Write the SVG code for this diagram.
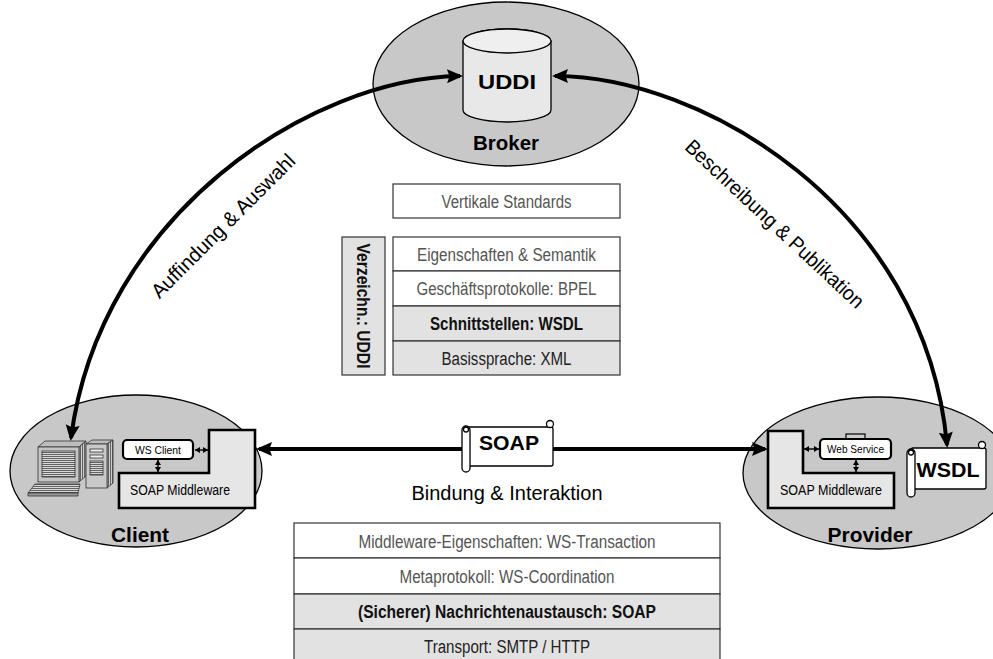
<svg xmlns="http://www.w3.org/2000/svg" width="993" height="659" viewBox="0 0 993 659">
  <style>
    .zone { fill: #c8c8c8; stroke: #000; stroke-width: 1.3; }
    .mw { fill: #e6e6e6; stroke: #000; stroke-width: 2.6; stroke-linejoin: miter; }
    .comp { fill: #fff; stroke: #000; stroke-width: 2.2; }
    .scroll { fill: #fff; stroke: #000; stroke-width: 1.3; }
    .layer { fill: #fff; stroke: #333; stroke-width: 1.2; }
    .layer.g { fill: #e2e2e2; }
    .flow { fill: none; stroke: #000; stroke-width: 4; }
    .tiny { fill: none; stroke: #000; stroke-width: 1.4; }
    text { font-family: "Liberation Sans", Arial, sans-serif; text-anchor: middle; }
    .t-big { font-weight: bold; font-size: 21px; fill: #000; }
    .t-std { font-size: 18px; fill: #555; }
    .t-key { font-size: 18px; fill: #111; font-weight: bold; }
    .t-base { font-size: 18px; fill: #222; }
    .t-lbl { font-size: 20.5px; fill: #000; }
    .t-small { font-size: 11.5px; fill: #000; }
    .t-mw { font-size: 14px; fill: #000; }
  </style>
  <defs>
    <marker id="arrow" markerUnits="userSpaceOnUse" markerWidth="17" markerHeight="15" refX="13" refY="7" orient="auto-start-reverse">
      <path d="M0,0 L16,7 L0,14 L2.5,7 z" fill="#000"/>
    </marker>
    <marker id="tip" markerUnits="userSpaceOnUse" markerWidth="6" markerHeight="6" refX="5" refY="3" orient="auto-start-reverse">
      <path d="M0,0 L5,3 L0,6 z" fill="#000"/>
    </marker>
    <pattern id="hatch" patternUnits="userSpaceOnUse" width="4" height="2">
      <rect width="4" height="2" fill="#d8d8d8"/>
      <rect width="4" height="0.9" fill="#555"/>
    </pattern>
    <pattern id="vhatch" patternUnits="userSpaceOnUse" width="2" height="4">
      <rect width="2" height="4" fill="#cfcfcf"/>
      <rect width="0.9" height="4" fill="#555"/>
    </pattern>
  </defs>

  <!-- Broker with UDDI registry -->
  <g id="broker">
    <ellipse class="zone" cx="506" cy="84" rx="133" ry="82"/>
    <path d="M463,41 L463,110 A44,12 0 0 0 551,110 L551,41 A44,12 0 0 0 463,41 Z" fill="#e8e8e8" stroke="#000" stroke-width="1.3"/>
    <ellipse cx="507" cy="41" rx="44" ry="12" fill="#efefef" stroke="#000" stroke-width="1.3"/>
    <text class="t-big" x="507" y="89" font-size="26" textLength="58" lengthAdjust="spacingAndGlyphs">UDDI</text>
    <text class="t-big" x="506" y="150" textLength="66" lengthAdjust="spacingAndGlyphs">Broker</text>
  </g>

  <!-- Client -->
  <g id="client">
    <ellipse class="zone" cx="136" cy="471" rx="126" ry="76"/>
    <!-- workstation -->
    <g stroke="#333" stroke-width="0.8">
      <polygon points="38,447 45,441 86,441 79,447" fill="#bdbdbd"/>
      <polygon points="79,447 86,441 86,476 79,482" fill="url(#vhatch)"/>
      <rect x="38" y="447" width="41" height="35" fill="#c4c4c4"/>
      <rect x="42" y="451" width="33" height="26" fill="url(#hatch)"/>
      <polygon points="86,444 92,440 113,440 107,444" fill="#bdbdbd"/>
      <polygon points="107,444 113,440 113,483 107,488" fill="url(#vhatch)"/>
      <rect x="86" y="444" width="21" height="44" fill="#c9c9c9"/>
      <rect x="90" y="449" width="13" height="3" fill="#eee"/>
      <rect x="90" y="455" width="13" height="3" fill="#eee"/>
      <rect x="90" y="461" width="13" height="14" fill="url(#hatch)"/>
      <polygon points="35,484 80,484 78,493 28,493" fill="url(#hatch)"/>
      <polygon points="28,493 78,493 78,496 28,496" fill="#999"/>
    </g>
    <path class="mw" d="M119,473 L209,473 L209,430 L255,430 L255,508 L119,508 Z"/>
    <rect class="comp" x="123" y="440" width="70" height="19" rx="4"/>
    <text class="t-small" x="158" y="454" textLength="46" lengthAdjust="spacingAndGlyphs">WS Client</text>
    <text class="t-mw" x="180" y="495" textLength="100" lengthAdjust="spacingAndGlyphs">SOAP Middleware</text>
    <text class="t-big" x="140" y="542" font-size="20.5" textLength="58" lengthAdjust="spacingAndGlyphs">Client</text>
  </g>

  <!-- Provider -->
  <g id="provider">
    <ellipse class="zone" cx="878" cy="473" rx="135" ry="76"/>
    <path class="mw" d="M768,431 L803,431 L803,473 L894,473 L894,508 L768,508 Z"/>
    <rect x="846" y="434" width="19" height="6" fill="#ccc" stroke="#000" stroke-width="1.2"/>
    <rect class="comp" x="820" y="439" width="71" height="20" rx="4"/>
    <text class="t-small" x="855.5" y="453" textLength="57" lengthAdjust="spacingAndGlyphs">Web Service</text>
    <text class="t-mw" x="831" y="495" textLength="102" lengthAdjust="spacingAndGlyphs">SOAP Middleware</text>
    <text class="t-big" x="870" y="542" textLength="85" lengthAdjust="spacingAndGlyphs">Provider</text>
  </g>

  <!-- WSDL document -->
  <g id="wsdl">
    <rect class="scroll" x="911" y="448" width="75" height="41" rx="2"/>
    <circle class="scroll" cx="982" cy="445" r="3.5"/>
    <rect class="scroll" x="907" y="449" width="8" height="48" rx="4"/>
    <circle class="scroll" cx="911" cy="452.5" r="2.5"/>
    <text class="t-big" x="948" y="477" font-size="22.5" textLength="63" lengthAdjust="spacingAndGlyphs">WSDL</text>
  </g>

  <!-- Connectors -->
  <g id="connectors">
    <path class="flow" d="M460,76 C310,78 100,215 71,438" marker-start="url(#arrow)" marker-end="url(#arrow)"/>
    <path class="flow" d="M555,76 C700,76 925,205 947,445" marker-start="url(#arrow)" marker-end="url(#arrow)"/>
    <line class="flow" x1="259" y1="449" x2="765" y2="449" marker-start="url(#arrow)" marker-end="url(#arrow)"/>
    <line class="tiny" x1="195" y1="450" x2="208" y2="450" marker-start="url(#tip)" marker-end="url(#tip)"/>
    <line class="tiny" x1="158" y1="460" x2="158" y2="472" marker-start="url(#tip)" marker-end="url(#tip)"/>
    <line class="tiny" x1="804" y1="449" x2="819" y2="449" marker-start="url(#tip)" marker-end="url(#tip)"/>
    <line class="tiny" x1="856" y1="460" x2="856" y2="472" marker-start="url(#tip)" marker-end="url(#tip)"/>
    <text class="t-lbl" x="228" y="231" transform="rotate(-45 228 231)" textLength="194" lengthAdjust="spacingAndGlyphs">Auffindung &amp; Auswahl</text>
    <text class="t-lbl" x="770" y="229" transform="rotate(43 770 229)" textLength="236" lengthAdjust="spacingAndGlyphs">Beschreibung &amp; Publikation</text>
  </g>

  <!-- SOAP message -->
  <g id="soap">
    <rect class="scroll" x="467" y="427" width="86" height="39" rx="2"/>
    <circle class="scroll" cx="550" cy="424" r="3.5"/>
    <rect class="scroll" x="462" y="426" width="8" height="46" rx="4"/>
    <circle class="scroll" cx="466" cy="429.5" r="2.5"/>
    <text class="t-big" x="509" y="450" font-size="20.5" textLength="60" lengthAdjust="spacingAndGlyphs">SOAP</text>
  </g>
  <text class="t-lbl" x="507" y="500" font-size="20" textLength="191" lengthAdjust="spacingAndGlyphs">Bindung &amp; Interaktion</text>

  <!-- Description layer stack -->
  <g id="description-stack">
    <rect class="layer" x="393" y="184" width="227" height="34"/>
    <text class="t-std" x="506.5" y="207.5" textLength="130" lengthAdjust="spacingAndGlyphs">Vertikale Standards</text>
    <rect class="layer" x="393" y="237" width="227" height="34"/>
    <text class="t-std" x="506.5" y="260.5" textLength="179" lengthAdjust="spacingAndGlyphs">Eigenschaften &amp; Semantik</text>
    <rect class="layer" x="393" y="271" width="227" height="35"/>
    <text class="t-std" x="506.5" y="295" textLength="180" lengthAdjust="spacingAndGlyphs">Geschäftsprotokolle: BPEL</text>
    <rect class="layer g" x="393" y="306" width="227" height="35"/>
    <text class="t-key" x="506.5" y="330" textLength="153" lengthAdjust="spacingAndGlyphs">Schnittstellen: WSDL</text>
    <rect class="layer g" x="393" y="341" width="227" height="34"/>
    <text class="t-base" x="506.5" y="364.5" textLength="130" lengthAdjust="spacingAndGlyphs">Basissprache: XML</text>
    <rect class="layer g" x="342" y="237" width="43" height="138"/>
    <text class="t-key" x="357" y="306" transform="rotate(90 363.5 306)" dx="6.5" dy="6.5" textLength="125" lengthAdjust="spacingAndGlyphs">Verzeichn.: UDDI</text>
  </g>

  <!-- Interaction layer stack -->
  <g id="interaction-stack">
    <rect class="layer" x="294" y="523" width="426" height="35"/>
    <text class="t-std" x="507" y="547.5" textLength="297" lengthAdjust="spacingAndGlyphs">Middleware-Eigenschaften: WS-Transaction</text>
    <rect class="layer" x="294" y="558" width="426" height="36"/>
    <text class="t-std" x="507" y="582.5" textLength="215" lengthAdjust="spacingAndGlyphs">Metaprotokoll: WS-Coordination</text>
    <rect class="layer g" x="294" y="594" width="426" height="35"/>
    <text class="t-key" x="507" y="618" textLength="298" lengthAdjust="spacingAndGlyphs">(Sicherer) Nachrichtenaustausch: SOAP</text>
    <rect class="layer g" x="294" y="629" width="426" height="36"/>
    <text class="t-base" x="507" y="652.5" textLength="166" lengthAdjust="spacingAndGlyphs">Transport: SMTP / HTTP</text>
  </g>
</svg>
